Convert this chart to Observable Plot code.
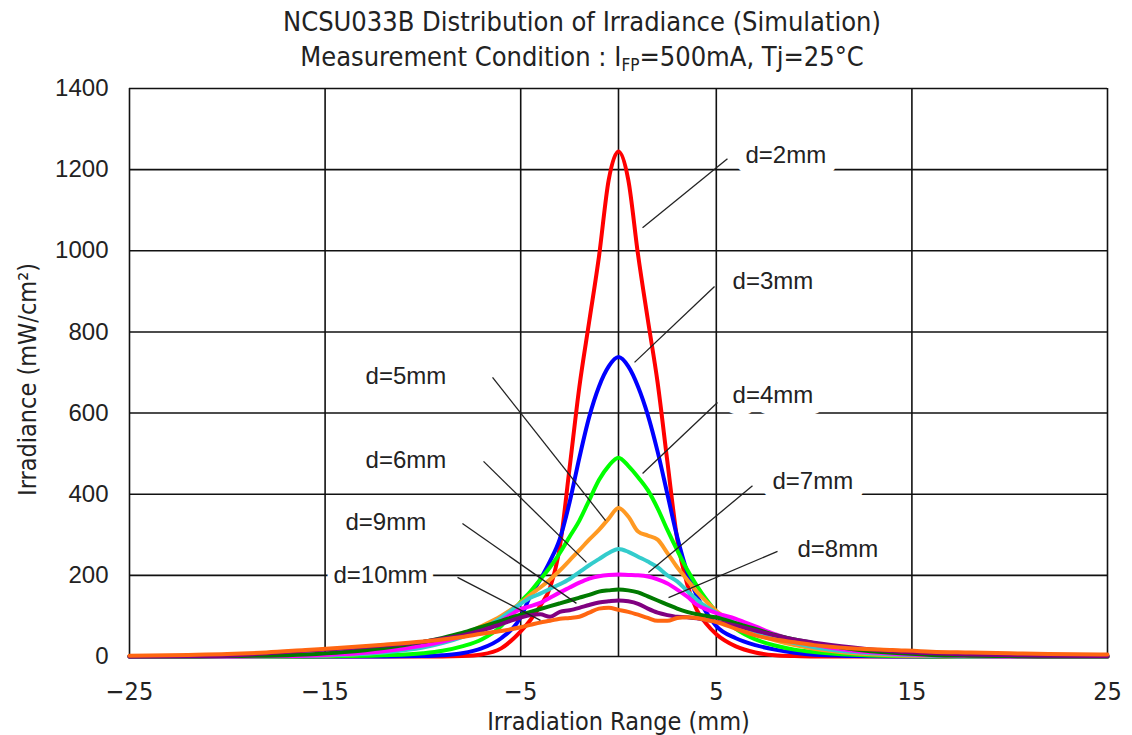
<!DOCTYPE html>
<html>
<head>
<meta charset="utf-8">
<script src="https://cdn.jsdelivr.net/npm/d3@7"></script>
<script src="https://cdn.jsdelivr.net/npm/@observablehq/plot@0.6"></script>
<style>
  html, body { margin: 0; padding: 0; background: white; }
  #wrap { width: 1132px; height: 735px; position: relative; overflow: hidden; background: white; }
  #title { height: 76px; box-sizing: border-box; padding-left: 32px; width: 1132px; text-align: center;
           font-family: "Liberation Sans Narrow", "DejaVu Sans Condensed", sans-serif; color: #222; }
  #title .l1 { font-size: 27px; line-height: 27px; padding-top: 8px; }
  #title .l2 { font-size: 27px; line-height: 27px; padding-top: 8px; }
  #title sub { font-size: 17px; vertical-align: -5px; line-height: 0; }
</style>
</head>
<body>
<div id="wrap">
  <div id="title">
    <div class="l1">NCSU033B Distribution of Irradiance (Simulation)</div>
    <div class="l2">Measurement Condition : I<sub>FP</sub>=500mA, Tj=25°C</div>
  </div>
  <div id="chart"></div>
</div>
<script>
// Shared x positions (mm)
const xs = [-25,-22,-20,-18,-16,-14,-12,-10,-9,-8,-7,-6,-5,-4.5,-4,-3.5,-3,-2.5,-2,-1.5,-1,-0.5,0,0.5,1,1.5,2,2.5,3,3.5,4,4.5,5,6,7,8,9,10,12,14,16,18,20,22,25];

// Irradiance (mW/cm2) per distance d
const d2  = [0,0,0,0,0,0,0,0,0,1,5,20,62,90,125,170,270,465,665,825,985,1175,1245,1175,990,830,675,480,290,180,115,80,55,25,10,3,1,0,0,0,0,0,0,0,0];
const d3  = [0,0,0,0,0,0,0,1,3,8,20,45,97,150,190,235,290,380,490,590,665,715,738,715,665,595,505,400,295,210,150,108,75,45,28,17,9,4,1,0,0,0,0,0,0];
const d4  = [0,0,0,0,0,1,3,8,14,25,42,75,135,160,190,220,255,295,335,385,435,470,490,470,442,410,365,312,262,215,175,140,110,68,42,27,17,11,4,1,0,0,0,0,0];
const d5  = [0,0,0,0,1,4,11,25,37,53,75,100,132,152,170,190,212,237,262,288,312,340,366,345,308,298,288,255,220,190,160,135,112,78,56,40,28,19,8,3,1,0,0,0,0];
const d6  = [0,0,0,0,1,4,10,22,33,48,68,95,130,145,155,167,178,191,208,225,240,255,265,258,246,234,220,200,185,162,140,122,108,82,62,46,33,23,11,5,2,0,0,0,0];
const d7  = [0,0,0,1,2,6,13,27,37,50,66,88,117,124,132,145,158,170,182,192,198,201,202,201,200,197,190,180,165,148,128,116,107,93,74,55,40,29,14,7,3,1,0,0,0];
const d8  = [0,0,1,2,5,11,21,36,46,58,73,88,103,110,117,124,131,138,145,152,160,163,165,163,158,148,138,128,118,110,104,100,96,82,68,53,42,33,18,9,4,2,1,0,0];
const d9  = [0,1,2,8,14,20,27,36,44,52,64,80,96,102,104,98,110,114,120,127,133,136,138,136,130,118,108,102,98,97,94,90,86,76,64,52,42,34,22,13,8,5,3,2,1];
const d10 = [2,4,6,10,16,22,29,37,42,48,56,63,72,78,84,88,93,95,98,108,118,120,115,110,103,95,88,88,95,97,95,90,85,68,52,42,35,28,20,16,12,10,8,6,5];

const seriesNames  = ["d=2mm","d=3mm","d=4mm","d=5mm","d=6mm","d=7mm","d=8mm","d=9mm","d=10mm"];
const seriesValues = [d2, d3, d4, d5, d6, d7, d8, d9, d10];
const seriesColors = ["#FF0000","#0000FF","#00FF00","#FF9922","#33CCCC","#FF00FF","#007A00","#800080","#FF6611"];

// Ticks and grid
const xTicks = [-25,-15,-5,5,15,25];
const xGrid  = [-25,-15,-5,0,5,15,25];
const yTicks = [0,200,400,600,800,1000,1200,1400];

// Annotation labels (data coordinates) and leader lines
const labelText = ["d=2mm","d=3mm","d=4mm","d=7mm","d=8mm","d=5mm","d=6mm","d=9mm","d=10mm"];
const labelX    = [6.49, 5.83, 5.83, 7.87, 9.15, -12.93, -12.93, -13.96, -14.57];
const labelY    = [1235, 924, 643, 431, 264, 690, 483, 330, 200];
const leadX1    = [5.57, 4.91, 5.06, 6.85, 8.13, -6.44, -6.90, -7.98, -8.23];
const leadY1    = [1227, 912, 626, 421, 259, 688, 481, 328, 195];
const leadX2    = [1.23, 0.82, 1.23, 1.53, 2.56, -0.66, -1.64, -2.15, -3.99];
const leadY2    = [1057, 725, 451, 207, 145, 335, 232, 131, 89];

const xLabel = "Irradiation Range (mm)";
const yLabel = "Irradiance (mW/cm²)";

const lineMarks = seriesValues.map((vals, k) =>
  Plot.line(xs.map((x, i) => ({x, y: vals[i]})), {
    x: "x", y: "y", stroke: seriesColors[k], strokeWidth: 4,
    curve: "monotone-x", strokeLinejoin: "round", strokeLinecap: "round"
  })
);

const idx = labelText.map((_, i) => i);

const chart = Plot.plot({
  width: 1132,
  height: 659,
  marginLeft: 129,
  marginRight: 25,
  marginTop: 12,
  marginBottom: 79,
  x: {domain: [-25, 25]},
  y: {domain: [0, 1400]},
  style: {background: "white", overflow: "visible", fontFamily: "Liberation Sans, sans-serif"},
  marks: [
    Plot.ruleY(yTicks, {stroke: "#111", strokeWidth: 1.6}),
    Plot.ruleX(xGrid, {stroke: "#111", strokeWidth: 1.6}),
    ...lineMarks,
    Plot.link(idx, {
      x1: i => leadX1[i], y1: i => leadY1[i], x2: i => leadX2[i], y2: i => leadY2[i],
      stroke: "#222", strokeWidth: 1.3
    }),
    Plot.text(idx, {
      x: i => labelX[i], y: i => labelY[i], text: i => labelText[i],
      textAnchor: "start", fontSize: 24, fontFamily: "Liberation Sans, sans-serif",
      fill: "#222", stroke: "white", strokeWidth: i => (labelX[i] < -14 ? 14 : 23),
      paintOrder: "stroke", strokeLinejoin: "round"
    }),
    Plot.axisX(xTicks, {tickSize: 0, tickPadding: 26, fontSize: 25,
      fontFamily: "Liberation Sans Narrow, DejaVu Sans Condensed, sans-serif", label: null, fill: "#222"}),
    Plot.axisY(yTicks, {tickSize: 0, tickPadding: 21, fontSize: 24, tickFormat: d => String(d),
      fontFamily: "Liberation Sans, sans-serif", label: null, fill: "#222"}),
    Plot.text([xLabel], {text: d => d, frameAnchor: "bottom", dy: 65, lineAnchor: "middle",
      fontSize: 25, fontFamily: "Liberation Sans Narrow, DejaVu Sans Condensed, sans-serif", fill: "#222"}),
    Plot.text([yLabel], {text: d => d, frameAnchor: "left", textAnchor: "middle", rotate: -90, dx: -102, dy: 7,
      lineAnchor: "middle", fontSize: 25, fontFamily: "Liberation Sans Narrow, DejaVu Sans Condensed, sans-serif", fill: "#222"})
  ]
});
document.getElementById("chart").appendChild(chart);
</script>
</body>
</html>
